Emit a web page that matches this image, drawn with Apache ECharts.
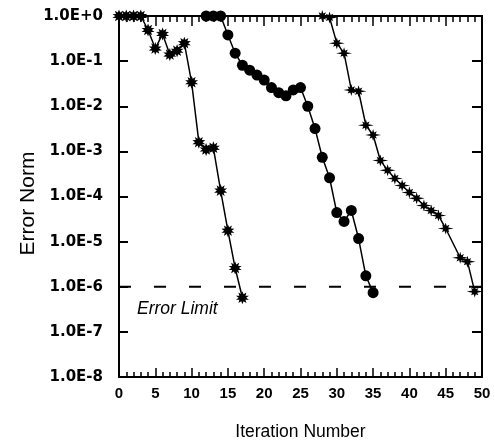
<!DOCTYPE html>
<html>
<head>
<meta charset="utf-8">
<script src="https://cdn.jsdelivr.net/npm/echarts@6/dist/echarts.min.js"></script>
<style>html,body{margin:0;padding:0;background:#fff}#c{width:495px;height:443px}</style>
</head>
<body>
<div id="c"></div>
<script>
// Series A (star markers)
const iterA = [0,1,2,3,4,5,6,7,8,9,10,11,12,13,14,15,16,17];
const errA  = [1,1,1,1,0.49,0.19,0.40,0.14,0.17,0.25,0.034,0.0016,0.0011,0.0012,1.35e-4,1.75e-5,2.6e-6,5.7e-7];
// Series B (circle markers)
const iterB = [12,13,14,15,16,17,18,19,20,21,22,23,24,25,26,27,28,29,30,31,32,33,34,35];
const errB  = [1,1,1,0.38,0.15,0.081,0.063,0.049,0.038,0.026,0.020,0.017,0.023,0.026,0.010,0.0032,7.4e-4,2.6e-4,4.4e-5,2.8e-5,4.9e-5,1.17e-5,1.75e-6,7.4e-7];
// Series C (cross-star markers)
const iterC = [28,29,30,31,32,33,34,35,36,37,38,39,40,41,42,43,44,45,47,48,49];
const errC  = [1,0.93,0.25,0.15,0.023,0.0215,0.0038,0.0023,6.3e-4,3.8e-4,2.5e-4,1.75e-4,1.23e-4,9.1e-5,6.3e-5,4.9e-5,3.8e-5,1.95e-5,4.4e-6,3.6e-6,7.8e-7];
// Error limit line
const limitX = [0, 50];
const limitY = [1e-6, 1e-6];
const xRange = {min:0, max:50, major:5, minor:1};
const yRange = {min:1e-8, max:1};

function starPath(radii, inner){
  const n = radii.length; let d = '';
  for (let i=0;i<n;i++){
    const a = i*2*Math.PI/n - Math.PI/2;
    const b = a + Math.PI/n;
    const x1 = 100 + 100*radii[i]*Math.cos(a), y1 = 100 + 100*radii[i]*Math.sin(a);
    const x2 = 100 + 100*inner*Math.cos(b), y2 = 100 + 100*inner*Math.sin(b);
    d += (i===0?'M':'L') + x1.toFixed(1)+' '+y1.toFixed(1)+' L'+x2.toFixed(1)+' '+y2.toFixed(1)+' ';
  }
  return 'path://' + d + 'Z';
}
const symA = starPath([1,1,1,1,1,1,1,1,1,1], 0.55);
const symC = starPath([0.75,0.65,1,0.65,0.75,0.65,1,0.65], 0.34);

const pairs = (xs, ys) => xs.map((x,i)=>[x, ys[i]]);
const expFmt = v => { const e = Math.round(Math.log10(v)); return '1.0E' + (e>=0?'+':'') + e; };

const axisLine = {show:true, onZero:false, lineStyle:{color:'#000', width:2}};
function xAx(pos, interval, len, labels){
  const ax = {
    type:'value', min:xRange.min, max:xRange.max, interval:interval, position:pos,
    axisLine:axisLine,
    axisTick:{show:true, inside:true, length:len, lineStyle:{color:'#000', width:1.5}},
    splitLine:{show:false},
    axisLabel:{show:true, formatter:function(){return '';}}
  };
  if (labels){
    ax.axisLabel = {show:true, color:'#000', fontFamily:'Liberation Sans', fontWeight:'bold', fontSize:15, margin:9};
    ax.name = 'Iteration Number'; ax.nameLocation = 'middle'; ax.nameGap = 46;
    ax.nameTextStyle = {color:'#000', fontFamily:'Liberation Sans', fontSize:17.5};
  }
  return ax;
}

const chart = echarts.init(document.getElementById('c'), null, {renderer:'canvas'});
chart.setOption({
  animation:false,
  backgroundColor:'#fff',
  grid:{left:119, right:13, top:16, bottom:66, containLabel:false, outerBoundsMode:'none'},
  xAxis:[
    xAx('bottom', xRange.major, 9, true),
    xAx('bottom', xRange.minor, 5, false),
    xAx('top', xRange.major, 10, false),
    xAx('top', xRange.minor, 6, false)
  ],
  yAxis:[{
    type:'log', logBase:10, min:yRange.min, max:yRange.max, interval:1, position:'left',
    axisLine:axisLine,
    axisTick:{show:true, inside:true, length:9, lineStyle:{color:'#000', width:2}},
    splitLine:{show:false},
    axisLabel:{color:'#000', fontFamily:'DejaVu Sans', fontWeight:'bold', fontSize:15, margin:16, formatter:expFmt},
    name:'Error Norm', nameLocation:'middle', nameGap:80, nameMoveOverlap:false,
    nameTextStyle:{color:'#000', fontFamily:'Liberation Sans', fontSize:21, padding:[0,14,0,0]}
  },{
    type:'log', logBase:10, min:yRange.min, max:yRange.max, interval:1, position:'right',
    axisLine:axisLine,
    axisTick:{show:true, inside:true, length:10, lineStyle:{color:'#000', width:2}},
    splitLine:{show:false}, axisLabel:{show:false}
  }],
  series:[
    {type:'line', data:pairs(limitX, limitY), symbol:'none', silent:true,
     lineStyle:{color:'#000', width:2, type:[12,23]}, z:2},
    {type:'line', data:pairs(iterA, errA), symbol:symA, symbolSize:13, showAllSymbol:true,
     lineStyle:{color:'#000', width:1.5}, itemStyle:{color:'#000'}, z:3},
    {type:'line', data:pairs(iterB, errB), symbol:'circle', symbolSize:11, showAllSymbol:true,
     lineStyle:{color:'#000', width:1.5}, itemStyle:{color:'#000'}, z:3},
    {type:'line', data:pairs(iterC, errC), symbol:symC, symbolSize:[16,12], showAllSymbol:true,
     lineStyle:{color:'#000', width:1.5}, itemStyle:{color:'#000'}, z:3}
  ],
  graphic:[{type:'text', left:137, top:300,
    style:{text:'Error Limit', fill:'#000', font:'italic 17.5px "Liberation Sans"'}}]
});
</script>
</body>
</html>
